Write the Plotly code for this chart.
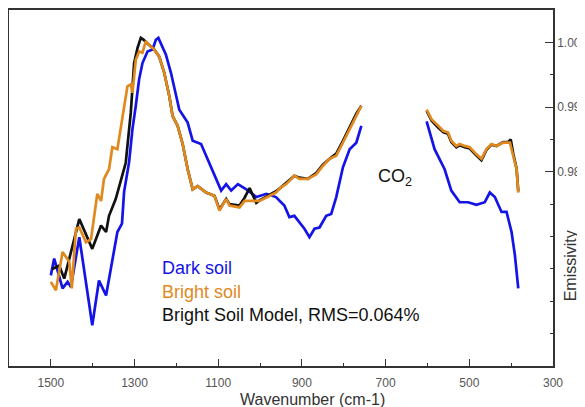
import plotly.graph_objects as go

# ---- Data (wavenumber cm-1, emissivity) ----
dark_wn_left = [1500, 1492, 1472, 1460, 1452, 1432, 1401, 1385, 1368, 1341, 1330, 1325, 1313, 1305,
                1297, 1289, 1281, 1269, 1257, 1249, 1243, 1237, 1225, 1213, 1201, 1193, 1173, 1161,
                1141, 1129, 1113, 1093, 1081, 1069, 1053, 1033, 1009, 985, 962, 942, 930, 918, 894,
                882, 870, 858, 842, 830, 818, 802, 786, 770, 758]
dark_em_left = [0.9640, 0.9666, 0.9620, 0.9630, 0.9622, 0.9699, 0.9563, 0.9632, 0.9609, 0.9707,
                0.9720, 0.9769, 0.9815, 0.9866, 0.9902, 0.9943, 0.9968, 0.9986, 0.9989, 1.0004,
                1.0007, 0.9999, 0.9981, 0.9953, 0.9917, 0.9896, 0.9876, 0.9848, 0.9843, 0.9825,
                0.9802, 0.9771, 0.9781, 0.9771, 0.9781, 0.9773, 0.9761, 0.9766, 0.9761, 0.9748,
                0.9730, 0.9732, 0.9712, 0.9699, 0.9712, 0.9714, 0.9732, 0.9735, 0.9761, 0.9807,
                0.9835, 0.9845, 0.9871]
dark_wn_right = [602, 583, 559, 543, 523, 503, 483, 463, 451, 439, 423, 411, 399, 391, 383]
dark_em_right = [0.9878, 0.9835, 0.9804, 0.9771, 0.9753, 0.9753, 0.9749, 0.9753, 0.9768, 0.9761,
                 0.9738, 0.9738, 0.9707, 0.9671, 0.9620]

bright_wn_left = [1500, 1488, 1472, 1456, 1450, 1440, 1432, 1416, 1404, 1389, 1380, 1373, 1361, 1353,
                  1341, 1329, 1317, 1309, 1305, 1297, 1289, 1281, 1273, 1265, 1253, 1241, 1229, 1217,
                  1209, 1197, 1185, 1173, 1161, 1149, 1129, 1109, 1097, 1081, 1073, 1049, 1037, 1001,
                  982, 962, 950, 938, 930, 918, 906, 886, 866, 850, 834, 818, 802, 790, 770, 758]
bright_em_left = [0.9630, 0.9617, 0.9676, 0.9661, 0.9620, 0.9712, 0.9714, 0.9691, 0.9696, 0.9766,
                  0.9755, 0.9789, 0.9804, 0.9838, 0.9835, 0.9881, 0.9932, 0.9935, 0.9922, 0.9973,
                  0.9986, 0.9984, 1.0002, 0.9996, 0.9989, 0.9978, 0.9953, 0.9917, 0.9886, 0.9871,
                  0.9843, 0.9804, 0.9773, 0.9778, 0.9768, 0.9763, 0.9740, 0.9758, 0.9748, 0.9745,
                  0.9755, 0.9755, 0.9761, 0.9768, 0.9776, 0.9781, 0.9786, 0.9794, 0.9789, 0.9789,
                  0.9796, 0.9809, 0.9820, 0.9825, 0.9845, 0.9861, 0.9886, 0.9902]
bright_wn_right = [602, 590, 574, 562, 551, 543, 531, 523, 511, 499, 483, 471, 459, 447, 435, 419,
                   403, 395, 387, 383]
bright_em_right = [0.9896, 0.9881, 0.9871, 0.9863, 0.9861, 0.9848, 0.9840, 0.9843, 0.9840, 0.9838,
                   0.9827, 0.9820, 0.9835, 0.9843, 0.9840, 0.9845, 0.9845, 0.9825, 0.9804, 0.9768]

model_wn_left = [1497, 1480, 1468, 1456, 1432, 1401, 1380, 1368, 1361, 1345, 1333, 1321, 1309, 1305,
                 1301, 1293, 1285, 1278, 1273, 1265, 1253, 1241, 1229, 1217, 1209, 1197, 1185, 1173,
                 1161, 1149, 1129, 1109, 1097, 1081, 1073, 1049, 1037, 1025, 1009, 1001, 982, 962,
                 950, 938, 930, 918, 906, 886, 866, 850, 834, 818, 802, 790, 770, 758]
model_em_left = [0.9650, 0.9655, 0.9635, 0.9666, 0.9727, 0.9681, 0.9717, 0.9707, 0.9732, 0.9758,
                 0.9784, 0.9814, 0.9891, 0.9932, 0.9968, 0.9991, 1.0007, 1.0004, 1.0000, 0.9996,
                 0.9989, 0.9978, 0.9953, 0.9917, 0.9886, 0.9871, 0.9843, 0.9804, 0.9773, 0.9778,
                 0.9768, 0.9763, 0.9742, 0.9758, 0.9750, 0.9748, 0.9760, 0.9775, 0.9752, 0.9756,
                 0.9763, 0.9770, 0.9776, 0.9783, 0.9788, 0.9794, 0.9791, 0.9789, 0.9798, 0.9811,
                 0.9820, 0.9828, 0.9848, 0.9864, 0.9890, 0.9902]
model_wn_right = [602, 590, 574, 562, 551, 543, 531, 523, 511, 499, 483, 471, 459, 447, 435, 419,
                  407, 401, 395, 387, 383]
model_em_right = [0.9894, 0.9879, 0.9868, 0.9861, 0.9859, 0.9846, 0.9838, 0.9841, 0.9838, 0.9836,
                  0.9825, 0.9818, 0.9834, 0.9842, 0.9840, 0.9846, 0.9846, 0.9850, 0.9828, 0.9805,
                  0.9770]

x_tick_vals = [1500, 1300, 1100, 900, 700, 500, 300]
y_tick_vals = [0.98, 0.99, 1.00]
y_tick_text = ["0.98", "0.99", "1.00"]
y_unlabeled_major = [0.96, 0.97]

legend_labels = ["Dark soil", "Bright soil", "Bright Soil Model, RMS=0.064%"]

BLUE = "#1414e6"
ORANGE = "#e0891e"
BLACK = "#111111"
FONT = "Liberation Sans, Arial, sans-serif"
YRANGE = [0.95, 1.005]


def join(a, b):
    return list(a) + [None] + list(b)


fig = go.Figure()
fig.add_trace(go.Scatter(x=join(dark_wn_left, dark_wn_right), y=join(dark_em_left, dark_em_right),
                         mode="lines", line=dict(color=BLUE, width=2.7), connectgaps=False,
                         name=legend_labels[0]))
fig.add_trace(go.Scatter(x=join(model_wn_left, model_wn_right), y=join(model_em_left, model_em_right),
                         mode="lines", line=dict(color=BLACK, width=2.7), connectgaps=False,
                         name=legend_labels[2]))
fig.add_trace(go.Scatter(x=join(bright_wn_left, bright_wn_right), y=join(bright_em_left, bright_em_right),
                         mode="lines", line=dict(color=ORANGE, width=2.7), connectgaps=False,
                         name=legend_labels[1]))

# page body has an 8px margin, so the figure is 8px smaller than the window
fig.update_layout(
    width=577, height=399,
    margin=dict(l=1, r=32, t=2, b=41, autoexpand=False),
    paper_bgcolor="white", plot_bgcolor="white",
    showlegend=False,
    font=dict(family=FONT, color="#555555", size=12),
    yaxis2=dict(overlaying="y", anchor="x", side="right", range=YRANGE, tickvals=y_unlabeled_major,
                ticks="inside", ticklen=8, tickwidth=1.3, tickcolor="#333333", showticklabels=False,
                showgrid=False, zeroline=False, showline=False),
)
fig.update_xaxes(
    range=[1600, 300], tickvals=x_tick_vals, ticks="inside", ticklen=7, tickwidth=1.3,
    tickcolor="#333333", showgrid=False, zeroline=False, showline=True, linecolor="#333333",
    linewidth=1.5, mirror=True, tickfont=dict(size=12, color="#555555"), ticklabelstandoff=5,
    minor=dict(dtick=200, tick0=1400, ticks="inside", ticklen=3, tickcolor="#333333", showgrid=False),
)
fig.layout.yaxis.update(
    range=YRANGE, side="right", tickvals=y_tick_vals, ticktext=y_tick_text,
    ticks="inside", ticklen=8, tickwidth=1.3, tickcolor="#333333", showgrid=False, zeroline=False,
    showline=True, linecolor="#333333", linewidth=1.5, mirror=True,
    tickfont=dict(size=12, color="#555555"),
    minor=dict(dtick=0.005, tick0=0.95, ticks="inside", ticklen=3, tickcolor="#333333", showgrid=False),
)

# Inline legend text
leg_colors = [BLUE, ORANGE, BLACK]
leg_y = [0.275, 0.208, 0.143]
for lab, col, yy in zip(legend_labels, leg_colors, leg_y):
    fig.add_annotation(text=lab, xref="paper", yref="paper", x=0.277, y=yy, xanchor="left",
                       yanchor="middle", showarrow=False, font=dict(size=18, color=col, family=FONT))

fig.add_annotation(text="CO<sub>2</sub>", xref="paper", yref="paper", x=0.675, y=0.53,
                   xanchor="left", yanchor="middle", showarrow=False,
                   font=dict(size=18, color="#111111", family=FONT))

fig.add_annotation(text="Wavenumber (cm-1)", xref="paper", yref="paper", x=0.558, y=-0.095,
                   xanchor="center", yanchor="middle", showarrow=False,
                   font=dict(size=16, color="#333333", family=FONT))
fig.add_annotation(text="Emissivity", xref="paper", yref="paper", x=1.0, xshift=17, y=0.28,
                   xanchor="center", yanchor="middle", textangle=-90, showarrow=False,
                   font=dict(size=16, color="#333333", family=FONT))

fig.write_html("out.html")
